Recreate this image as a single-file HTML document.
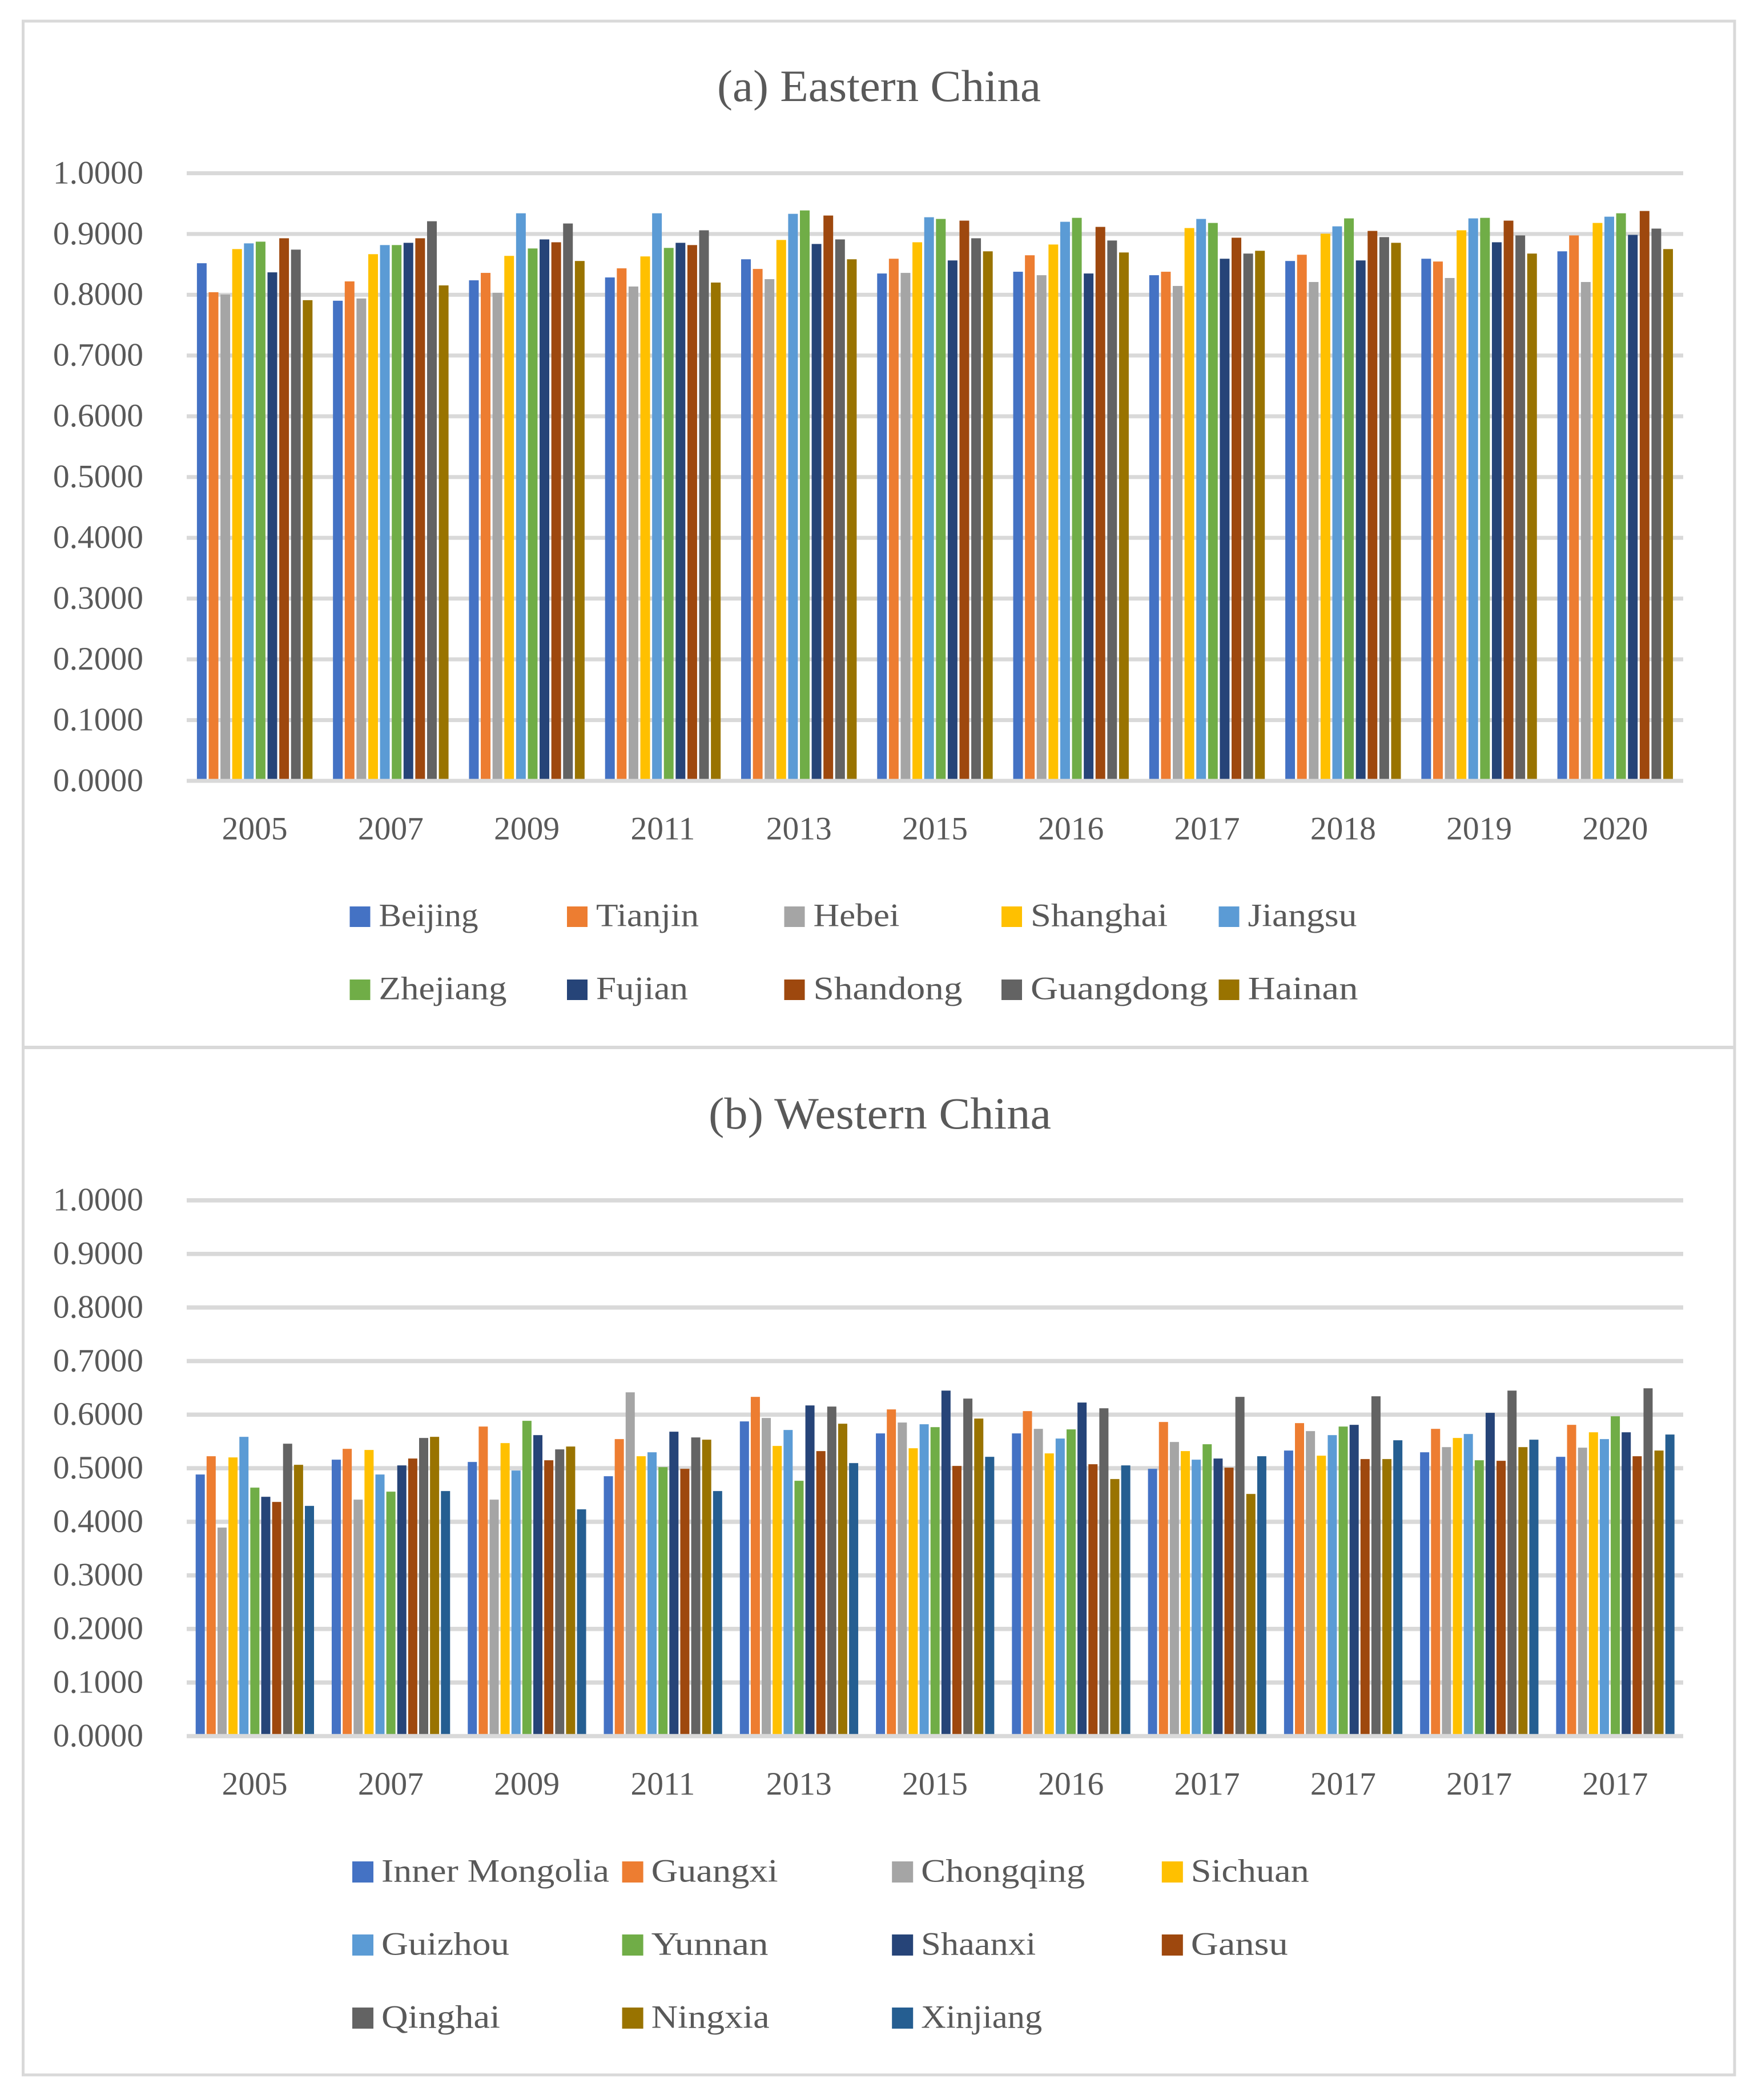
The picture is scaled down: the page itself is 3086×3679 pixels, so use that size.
<!DOCTYPE html>
<html lang="en">
<head>
<meta charset="utf-8">
<title>Eastern and Western China bar charts</title>
<style>
  html, body { margin: 0; padding: 0; background: #fff; }
  svg { display: block; }
  text { font-family: "Liberation Serif", serif; fill: #595959; }
</style>
</head>
<body>
<svg id="figure" xmlns="http://www.w3.org/2000/svg" width="3086" height="3679" viewBox="0 0 3086 3679">
  <rect x="0" y="0" width="3086" height="3679" fill="#fff"/>
  <rect x="40.5" y="37" width="2997.5" height="3598" fill="none" stroke="#d9d9d9" stroke-width="5"/>
  <rect x="40" y="1832" width="2998" height="6" fill="#d9d9d9"/>
  <text x="1256" y="177" font-size="78" textLength="567" lengthAdjust="spacingAndGlyphs">(a) Eastern China</text>
  <text x="1241" y="1977" font-size="78" textLength="600" lengthAdjust="spacingAndGlyphs">(b) Western China</text>
  <g id="east-chart"></g>
  <g id="west-chart"></g>
</svg>
<script>
const yTickLabels = ['0.0000','0.1000','0.2000','0.3000','0.4000','0.5000','0.6000','0.7000','0.8000','0.9000','1.0000'];

const eastCategories = ['2005','2007','2009','2011','2013','2015','2016','2017','2018','2019','2020'];
const eastSeriesNames = ['Beijing','Tianjin','Hebei','Shanghai','Jiangsu','Zhejiang','Fujian','Shandong','Guangdong','Hainan'];
const eastColors = ['#4472c4','#ed7d31','#a5a5a5','#ffc000','#5b9bd5','#70ad47','#264478','#9e480e','#636363','#997300'];

const east2005 = [0.8519,0.8042,0.8005,0.8752,0.8846,0.8874,0.8369,0.8930,0.8743,0.7911];
const east2007 = [0.7902,0.8220,0.7939,0.8668,0.8818,0.8818,0.8855,0.8930,0.9210,0.8154];
const east2009 = [0.8238,0.8360,0.8033,0.8640,0.9341,0.8762,0.8911,0.8864,0.9173,0.8556];
const east2011 = [0.8285,0.8435,0.8136,0.8631,0.9341,0.8771,0.8855,0.8818,0.9061,0.8201];
const east2013 = [0.8584,0.8425,0.8257,0.8902,0.9332,0.9388,0.8836,0.9304,0.8911,0.8584];
const east2015 = [0.8350,0.8593,0.8360,0.8864,0.9276,0.9248,0.8565,0.9220,0.8930,0.8715];
const east2016 = [0.8379,0.8650,0.8322,0.8827,0.9201,0.9266,0.8350,0.9117,0.8893,0.8696];
const east2017 = [0.8322,0.8379,0.8145,0.9098,0.9248,0.9182,0.8593,0.8939,0.8678,0.8724];
const east2018 = [0.8556,0.8659,0.8210,0.9005,0.9126,0.9257,0.8565,0.9051,0.8949,0.8855];
const east2019 = [0.8593,0.8547,0.8276,0.9061,0.9257,0.9266,0.8864,0.9220,0.8977,0.8678];
const east2020 = [0.8715,0.8977,0.8210,0.9182,0.9285,0.9341,0.8986,0.9379,0.9089,0.8752];
const eastValues = [east2005,east2007,east2009,east2011,east2013,east2015,east2016,east2017,east2018,east2019,east2020];

const westCategories = ['2005','2007','2009','2011','2013','2015','2016','2017','2017','2017','2017'];
const westSeriesNames = ['Inner Mongolia','Guangxi','Chongqing','Sichuan','Guizhou','Yunnan','Shaanxi','Gansu','Qinghai','Ningxia','Xinjiang'];
const westColors = ['#4472c4','#ed7d31','#a5a5a5','#ffc000','#5b9bd5','#70ad47','#264478','#9e480e','#636363','#997300','#255e91'];

const westGroup1 = [0.4883,0.5224,0.3892,0.5202,0.5586,0.4638,0.4467,0.4371,0.5458,0.5064,0.4297];
const westGroup2 = [0.5160,0.5362,0.4414,0.5341,0.4883,0.4563,0.5053,0.5181,0.5565,0.5586,0.4574];
const westGroup3 = [0.5117,0.5778,0.4414,0.5469,0.4957,0.5885,0.5618,0.5149,0.5352,0.5405,0.4233];
const westGroup4 = [0.4851,0.5544,0.6417,0.5224,0.5298,0.5021,0.5682,0.4989,0.5575,0.5533,0.4574];
const westGroup5 = [0.5874,0.6332,0.5938,0.5416,0.5714,0.4766,0.6172,0.5320,0.6151,0.5831,0.5096];
const westGroup6 = [0.5650,0.6098,0.5853,0.5373,0.5821,0.5767,0.6449,0.5043,0.6300,0.5927,0.5213];
const westGroup7 = [0.5650,0.6066,0.5735,0.5277,0.5554,0.5725,0.6226,0.5075,0.6119,0.4798,0.5053];
const westGroup8 = [0.4989,0.5863,0.5490,0.5320,0.5160,0.5448,0.5181,0.5011,0.6332,0.4520,0.5224];
const westGroup9 = [0.5330,0.5842,0.5693,0.5234,0.5618,0.5778,0.5810,0.5171,0.6343,0.5171,0.5522];
const westGroup10 = [0.5298,0.5735,0.5394,0.5565,0.5639,0.5149,0.6034,0.5139,0.6449,0.5394,0.5533];
const westGroup11 = [0.5213,0.5810,0.5384,0.5671,0.5544,0.5970,0.5671,0.5224,0.6492,0.5330,0.5629];
const westValues = [westGroup1,westGroup2,westGroup3,westGroup4,westGroup5,westGroup6,westGroup7,westGroup8,westGroup9,westGroup10,westGroup11];

const SVG_NS = 'http://www.w3.org/2000/svg';

function makeEl(tag, attrs) {
  const el = document.createElementNS(SVG_NS, tag);
  for (const k in attrs) el.setAttribute(k, attrs[k]);
  return el;
}

function drawChart(parent, cfg) {
  const plotLeft = 327, plotRight = 2948;
  const bandWidth = (plotRight - plotLeft) / cfg.categories.length;
  const yScale = v => cfg.y0 - v * cfg.unit;
  const bandX = i => plotLeft + i * bandWidth;

  yTickLabels.forEach(label => {
    const y = yScale(parseFloat(label));
    if (parseFloat(label) > 0) {
      const grid = makeEl('rect', { x: plotLeft, y: y - cfg.lineW / 2, width: plotRight - plotLeft, height: cfg.lineW, fill: '#d9d9d9' });
      
      
      parent.appendChild(grid);
    }
    const tick = makeEl('text', { x: 251, y: y + 17.8, 'font-size': 57.5, 'text-anchor': 'end' });
    tick.textContent = label;
    
    
    parent.appendChild(tick);
  });

  cfg.values.forEach((group, i) => {
    group.forEach((v, s) => {
      const top = yScale(v);
      const bar = makeEl('rect', {
        x: bandX(i) + cfg.barOffset + s * cfg.barStep,
        y: top,
        width: cfg.barW,
        height: cfg.y0 - top,
        fill: cfg.colors[s]
      });
      
      
      parent.appendChild(bar);
    });
    const cat = makeEl('text', { x: bandX(i) + bandWidth / 2, y: cfg.yearBaseline, 'font-size': 57.5, 'text-anchor': 'middle' });
    cat.textContent = cfg.categories[i];
    
    
    parent.appendChild(cat);
  });

  const axis = makeEl('rect', { x: plotLeft, y: cfg.y0 - cfg.lineW / 2, width: plotRight - plotLeft, height: cfg.lineW, fill: '#d9d9d9' });
  
  
  parent.appendChild(axis);

  cfg.names.forEach((name, s) => {
    const col = s % cfg.legendCols;
    const row = Math.floor(s / cfg.legendCols);
    const sx = cfg.legendX + col * cfg.legendColStep;
    const sy = cfg.legendY + row * cfg.legendRowStep;
    const swatch = makeEl('rect', { x: sx, y: sy, width: cfg.swatch, height: cfg.swatch, fill: cfg.colors[s] });
    
    
    parent.appendChild(swatch);
    const label = makeEl('text', {
      x: sx + cfg.legendTextDx,
      y: sy + cfg.swatch - 1.5,
      'font-size': 57.5,
      textLength: cfg.legendLabelLengths[s],
      lengthAdjust: 'spacingAndGlyphs'
    });
    label.textContent = name;
    
    
    parent.appendChild(label);
  });
}

drawChart(document.getElementById('east-chart'), {
  categories: eastCategories, values: eastValues, names: eastSeriesNames, colors: eastColors,
  y0: 1368, unit: 1064.5, lineW: 7, barOffset: 17.9, barStep: 20.6, barW: 17, yearBaseline: 1470.5,
  legendCols: 5, legendX: 612.5, legendY: 1588, legendColStep: 380.5, legendRowStep: 128, swatch: 36, legendTextDx: 51,
  legendLabelLengths: [174, 180, 151, 240, 191, 224, 161, 261, 311, 193]
});

drawChart(document.getElementById('west-chart'), {
  categories: westCategories, values: westValues, names: westSeriesNames, colors: westColors,
  y0: 3041.5, unit: 938.6, lineW: 7.5, barOffset: 15.7, barStep: 19.13, barW: 16, yearBaseline: 3144,
  legendCols: 4, legendX: 617, legendY: 3261, legendColStep: 472.6, legendRowStep: 128, swatch: 37, legendTextDx: 51,
  legendLabelLengths: [399, 222, 287, 207, 224, 205, 201, 170, 208, 207, 212]
});
</script>
</body>
</html>
